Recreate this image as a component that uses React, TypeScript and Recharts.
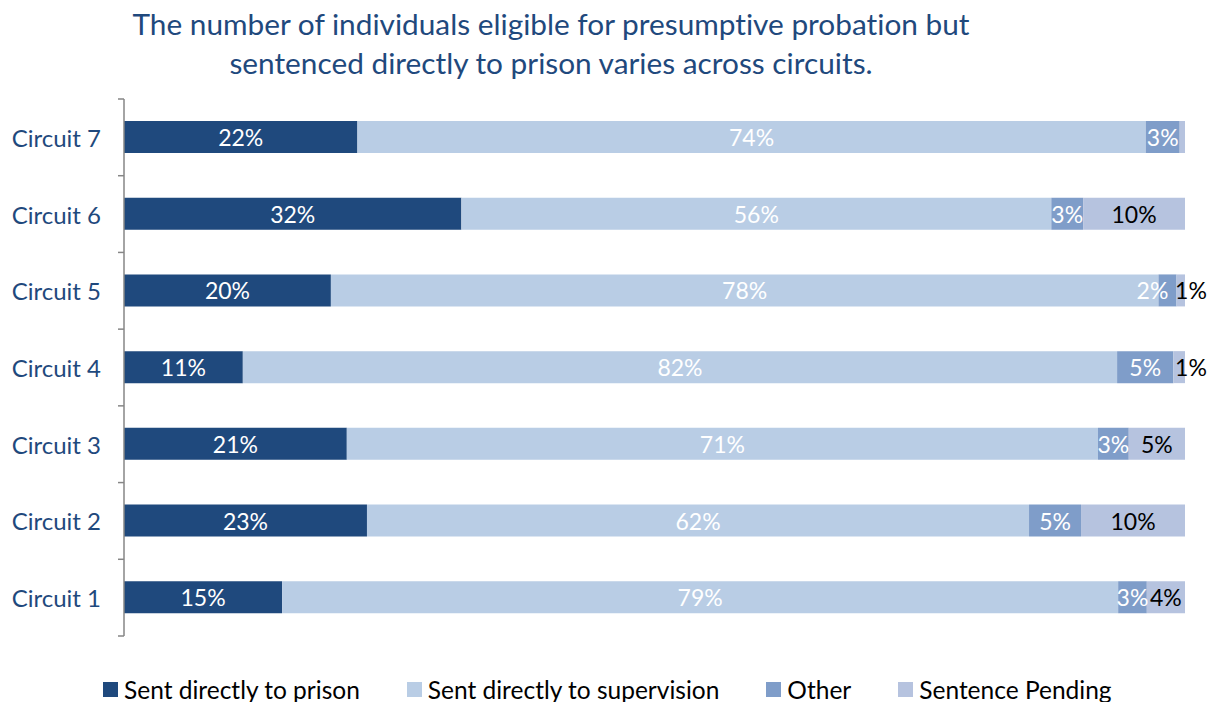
import { BarChart, Bar, XAxis, YAxis, LabelList } from "recharts";

// circuits, top to bottom
const circuits = ["Circuit 7", "Circuit 6", "Circuit 5", "Circuit 4", "Circuit 3", "Circuit 2", "Circuit 1"];
const prison = [22, 31.8, 19.5, 11.2, 21, 22.9, 14.9];
const supervision = [74.3, 55.6, 78, 82.4, 70.8, 62.4, 78.8];
const other = [3.2, 3, 1.7, 5.3, 2.9, 4.9, 2.7];
const pending = [0.5, 9.6, 0.8, 1.1, 5.3, 9.8, 3.6];

const SERIES = [
  { key: "prison", name: "Sent directly to prison", color: "#1F497D", text: "#FFFFFF" },
  { key: "supervision", name: "Sent directly to supervision", color: "#B9CDE5", text: "#FFFFFF" },
  { key: "other", name: "Other", color: "#7F9DC9", text: "#FFFFFF" },
  { key: "pending", name: "Sentence Pending", color: "#B6C3DF", text: "#000000" },
];

const data = circuits.map((name, i) => ({
  name,
  prison: prison[i],
  supervision: supervision[i],
  other: other[i],
  pending: pending[i],
}));

const FONT = "Lato, 'Open Sans', sans-serif";
const AXIS_GREY = "#868686";
const TICK_GAP = 23; // distance from label end to axis line

const segLabel = (key: string, fill: string) => (props: any) => {
  const x = Number(props.x);
  const y = Number(props.y);
  const w = Number(props.width);
  const h = Number(props.height);
  const v = Number(props.value);
  if (!(v >= 0.6)) return null;
  let cx = x + w / 2;
  // small end slices: push the label out of the way like Excel does
  if (key === "pending" && w < 15) cx = x + w + 6;
  if (key === "other" && w < 25) cx = x + w / 2 - 15;
  return (
    <text
      x={cx}
      y={y + h / 2}
      textAnchor="middle"
      dominantBaseline="central"
      fill={fill}
      fontSize={23}
      fontFamily={FONT}
    >
      {Math.round(v)}%
    </text>
  );
};

// category tick: label + Excel-style tick marks on the band boundaries
const CircuitTick = (props: any) => {
  const { x, y, payload, index, visibleTicksCount } = props;
  const half = Number(payload?.offset) || 0;
  const ax = Number(x) + TICK_GAP;
  const last = index === (visibleTicksCount ?? circuits.length) - 1;
  return (
    <g>
      <line x1={ax - 6} x2={ax} y1={y - half} y2={y - half} stroke={AXIS_GREY} strokeWidth={1.5} />
      {last && <line x1={ax - 6} x2={ax} y1={y + half} y2={y + half} stroke={AXIS_GREY} strokeWidth={1.5} />}
      <text x={x} y={y} textAnchor="end" dominantBaseline="central" fill="#1F497D" fontSize={24} fontFamily={FONT}>
        {payload.value}
      </text>
    </g>
  );
};

export default function App() {
  return (
    <div
      style={{
        position: "absolute",
        left: 0,
        top: 0,
        width: 1217,
        height: 702,
        background: "#fff",
        fontFamily: FONT,
        fontVariantLigatures: "none",
      }}
    >
      <div
        style={{
          position: "absolute",
          left: 0,
          top: 4,
          width: 1102,
          textAlign: "center",
          color: "#1F497D",
          fontSize: 29.8,
          lineHeight: "39px",
        }}
      >
        The number of individuals eligible for presumptive probation but
        <br />
        sentenced directly to prison varies across circuits.
      </div>
      <BarChart
        width={1217}
        height={702}
        data={data}
        layout="vertical"
        margin={{ top: 99, right: 32, bottom: 66, left: 0 }}
        barSize={32}
      >
        <XAxis type="number" domain={[0, 100]} hide />
        <YAxis
          type="category"
          dataKey="name"
          width={124}
          axisLine={{ stroke: AXIS_GREY, strokeWidth: 1.5 }}
          tickLine={false}
          tickSize={6}
          tickMargin={17}
          tick={<CircuitTick />}
        />
        {SERIES.map((s) => (
          <Bar
            key={s.key}
            dataKey={s.key}
            name={s.name}
            stackId="a"
            fill={s.color}
            isAnimationActive={false}
          >
            <LabelList dataKey={s.key} content={segLabel(s.key, s.text)} />
          </Bar>
        ))}
      </BarChart>
      <div
        style={{
          position: "absolute",
          left: 103,
          top: 675,
          display: "flex",
          alignItems: "center",
          fontSize: 24.5,
          color: "#000",
          whiteSpace: "nowrap",
        }}
      >
        {SERIES.map((s) => (
          <div key={s.key} style={{ display: "flex", alignItems: "center", marginRight: 47 }}>
            <span style={{ width: 15, height: 15, background: s.color, display: "inline-block", marginRight: 6 }} />
            <span>{s.name}</span>
          </div>
        ))}
      </div>
    </div>
  );
}
